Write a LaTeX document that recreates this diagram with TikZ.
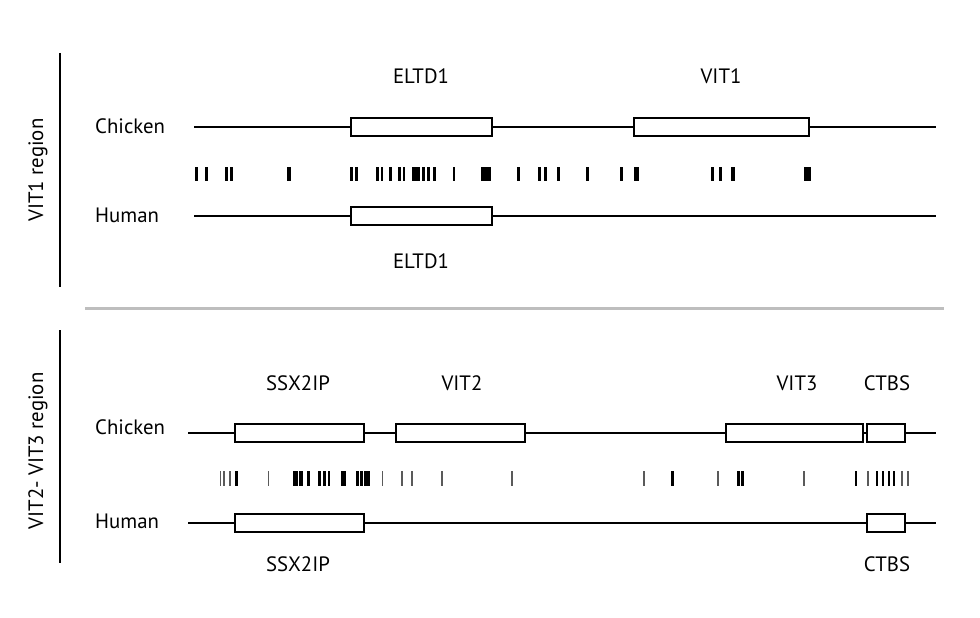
\documentclass[tikz,border=0pt]{standalone}
\usepackage{fontspec}
\setmainfont{PT Sans}
\begin{document}
\begin{tikzpicture}[x=1pt,y=-1pt,
  lbl/.style={inner sep=0pt,font=\fontsize{20.8}{24}\selectfont},
  gene/.style={draw=black,line width=1.4pt,fill=white,inner sep=0pt,minimum height=18pt},
  chrom/.style={line width=1.7pt},
  axisline/.style={line width=1.8pt},
  sep/.style={line width=3pt,draw={rgb,255:red,190;green,190;blue,190}},
  thin/.style={line width=1.1pt,draw={rgb,255:red,90;green,90;blue,90}}]
\useasboundingbox (0,0) rectangle (980,618);
% ---------- top panel ----------
\coordinate (va1) at (60,53); \coordinate (vb1) at (60,287);
\draw[axisline] (va1) -- (vb1);
\node[lbl,rotate=90] (reg1) at (38,170) {VIT1 region};
\node[lbl,anchor=west] (chk1) at (95,126) {Chicken};
\node[lbl,anchor=west] (hum1) at (95,215) {Human};
\coordinate (c1a) at (194,127); \coordinate (c1b) at (936,127);
\coordinate (h1a) at (194,216); \coordinate (h1b) at (936,216);
\draw[chrom] (c1a) -- (c1b);
\draw[chrom] (h1a) -- (h1b);
\node[gene,minimum width=141pt] (eltdC) at (421.5,127) {};
\node[gene,minimum width=175pt] (vit1C) at (721.5,127) {};
\node[gene,minimum width=141pt] (eltdH) at (421.5,216) {};
\node[lbl] (l_eltdC) at (421,76) {ELTD1};
\node[lbl] (l_vit1) at (721,76) {VIT1};
\node[lbl] (l_eltdH) at (421,261) {ELTD1};
\foreach \a/\b in {195/197.5,205/208,225/227.5,229.5/233,287/291,350/353,354.5/357.5,
  376/378.5,380.5/383,389/392,398/401,402.5/405,412/420,421.5/424.5,427/430,433/436,
  452.5/455,481/491,517/520,538/541,544/547,557/560,586/589,620/623,634/639,
  711/714,719/722,731/735,804/811}
  \fill (\a,167) rectangle (\b,181);
% ---------- separator ----------
\coordinate (s1) at (85,308); \coordinate (s2) at (944,308);
\draw[sep] (s1) -- (s2);
% ---------- bottom panel ----------
\coordinate (va2) at (60,330); \coordinate (vb2) at (60,563);
\draw[axisline] (va2) -- (vb2);
\node[lbl,rotate=90] (reg2) at (38,451) {VIT2- VIT3 region};
\node[lbl,anchor=west] (chk2) at (95,427) {Chicken};
\node[lbl,anchor=west] (hum2) at (95,521) {Human};
\coordinate (c2a) at (188,433); \coordinate (c2b) at (936,433);
\coordinate (h2a) at (188,523); \coordinate (h2b) at (936,523);
\draw[chrom] (c2a) -- (c2b);
\draw[chrom] (h2a) -- (h2b);
\node[gene,minimum width=129pt] (ssxC) at (299.5,433) {};
\node[gene,minimum width=129pt] (vit2C) at (460.5,433) {};
\node[gene,minimum width=137pt] (vit3C) at (794.5,433) {};
\node[gene,minimum width=38pt] (ctbsC) at (886,433) {};
\node[gene,minimum width=129pt] (ssxH) at (299.5,523) {};
\node[gene,minimum width=38pt] (ctbsH) at (886,523) {};
\node[lbl] (l_ssxC) at (298,383) {SSX2IP};
\node[lbl] (l_vit2) at (462,383) {VIT2};
\node[lbl] (l_vit3) at (797,383) {VIT3};
\node[lbl] (l_ctbsC) at (887,383) {CTBS};
\node[lbl] (l_ssxH) at (298,564) {SSX2IP};
\node[lbl] (l_ctbsH) at (887,564) {CTBS};
% thick ticks
\foreach \a/\b in {235/238,293/297.5,298.5/303,307/309.5,318/320.5,323/325.5,327.5/330,
  341/346,356/358.5,360/363,363.5/370,671/673.5,737/740,741/744,855/857,876/878,
  882/884,888/890,893/895}
  \fill (\a,471) rectangle (\b,486);
% thin ticks
\foreach \x in {220.5,224,230,268.5,382.5,402,412,442,512,644,718,804,868,902,908}
  \draw[thin] (\x,471) -- (\x,486);
\end{tikzpicture}
\end{document}
